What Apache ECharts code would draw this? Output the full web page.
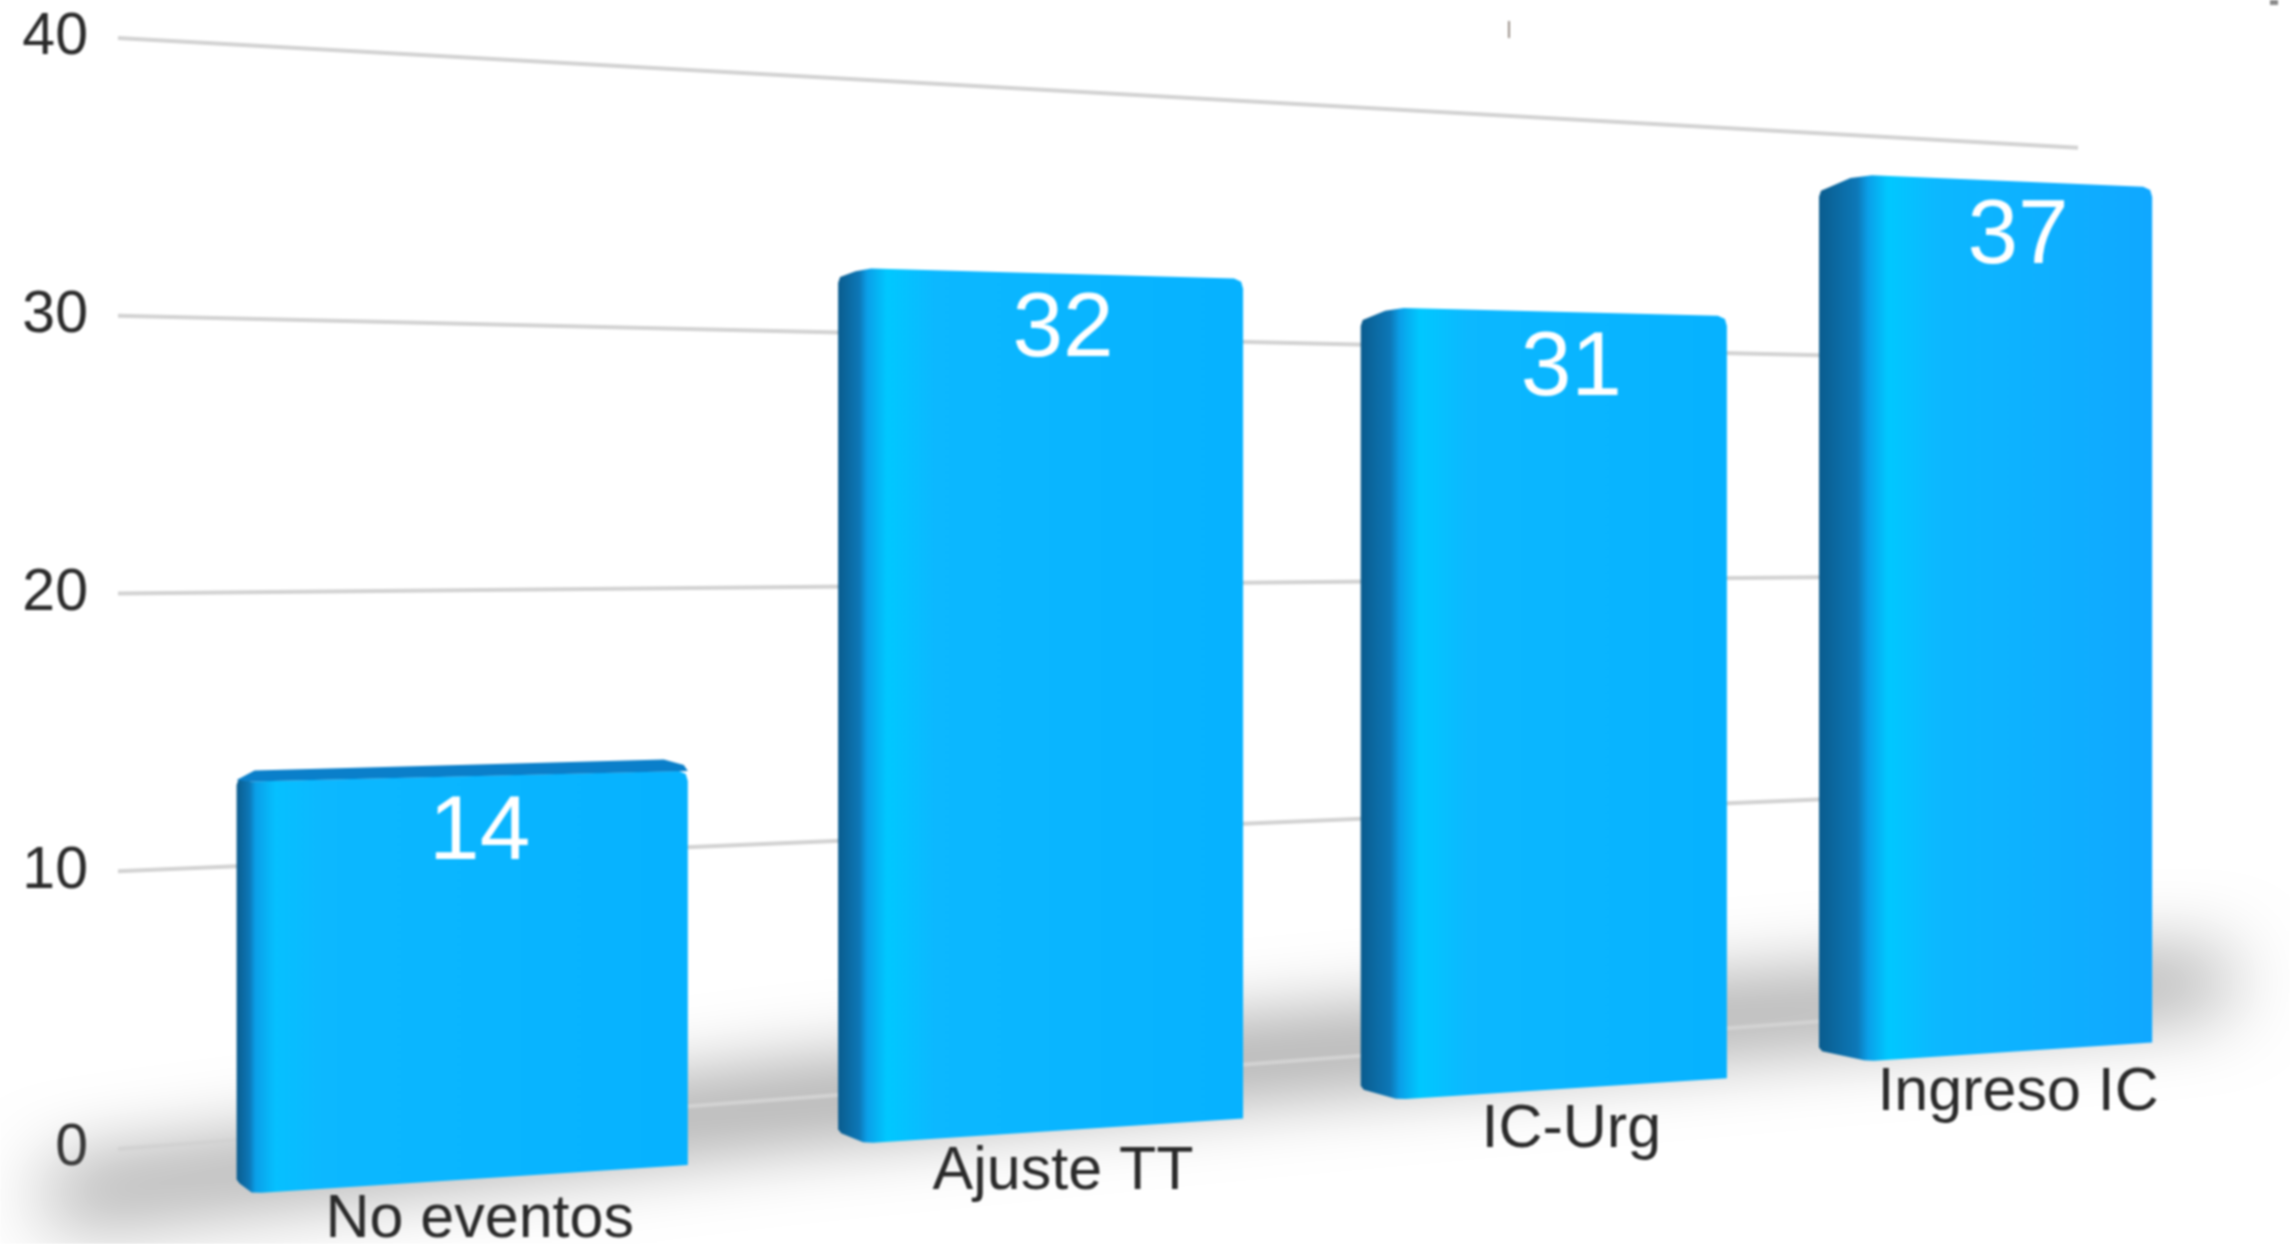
<!DOCTYPE html>
<html>
<head>
<meta charset="utf-8">
<style>
html,body{margin:0;padding:0;background:#fff;overflow:hidden}
#c{width:2290px;height:1244px;filter:blur(1.2px)}
</style>
<script src="https://cdn.jsdelivr.net/npm/echarts@6/dist/echarts.min.js"></script>
</head>
<body>
<div id="c"></div>
<script>
const categories = ['No eventos', 'Ajuste TT', 'IC-Urg', 'Ingreso IC'];
const values = [14, 32, 31, 37];
const yTicks = [0, 10, 20, 30, 40];

const FONT = '"Liberation Sans", Arial, sans-serif';
const chart = echarts.init(document.getElementById('c'), null, {renderer: 'canvas'});

// Perspective applied to the flat cartesian grid
const GRID = {left: 118, right: 212, top: 38, bottom: 95};
const depth = 0.0747;
const shrink = i => 1 / (1 + depth * i);
const centreX = i => 462.2 + 621.6 * i * shrink(i);
const halfWidth = i => 225.6 * Math.pow(shrink(i), 1.5);
const baseY = c => 1179.7 - 0.0829 * (c - 462.2);
const heightRatio = c => 1.008 * (19.57 - 0.00232 * (c - 462.2)) / 19.02;
const edgeSlope = v => -0.065 + 0.0029 * v;
const wallRightRatio = 0.769;
const wallRightZero = 1002;

function renderShadow(params, api) {
  const lift = 3000;
  const pts = [[50, 1176], [780, 1080], [1290, 1030], [1790, 988], [2225, 960],
               [2225, 1000], [1790, 1035], [1290, 1080], [780, 1130], [50, 1218]]
    .map(p => [p[0], p[1] - lift]);
  return {
    type: 'polygon',
    shape: {points: pts},
    style: {fill: '#777777', shadowColor: '#7a7a7a', shadowBlur: 80, shadowOffsetY: lift},
    silent: true
  };
}

function renderWall(params, api) {
  const zero = api.coord([0, 0]);
  const p = api.coord([0, api.value(1)]);
  const x0 = GRID.left, x1 = 2290 - GRID.right;
  const y1 = wallRightZero - (zero[1] - p[1]) * wallRightRatio;
  return {
    type: 'line',
    shape: {x1: x0, y1: p[1], x2: x1, y2: y1},
    style: {stroke: '#d2d2d2', lineWidth: 4},
    silent: true
  };
}

function renderBar(params, api) {
  const idx = params.dataIndex;
  const v = api.value(1);
  const zeroPt = api.coord([api.value(0), 0]);
  const topPt = api.coord([api.value(0), v]);
  const bandW = api.size([1, 0])[0];
  const i = (zeroPt[0] - GRID.left) / bandW - 0.5;
  const c = centreX(i), hw = halfWidth(i), h = (zeroPt[1] - topPt[1]) * heightRatio(c);
  const xl = c - hw, xr = c + hw;
  const side = 15 + 10 * i, xs = xl + side;
  const topY = x => baseY(c) - h + (x - c) * edgeSlope(v);
  const botY = x => baseY(c) + (x - c) * edgeSlope(0);
  const W = xr - xl;
  const low = v < 20;
  const f = x => Math.min(1, x / W);
  const grad = new echarts.graphic.LinearGradient(0, 0, 1, 0, [
    {offset: 0, color: '#0a5c8e'},
    {offset: f(side * 0.85), color: '#0d78b8'},
    {offset: f(side + 4), color: '#0a9fe8'},
    {offset: f(side + 24), color: low ? '#06c0ff' : '#00c8ff'},
    {offset: f(side + 72), color: '#0cb8ff'},
    {offset: 1, color: i > 2 ? '#10a8ff' : '#06b2ff'}
  ]);
  const leftTopY = low ? topY(xl) - 3 : topY(xs) + 0.35 * side;
  const body = [
    [xl, leftTopY + 6], [xl + 2, leftTopY],
    [low ? xs : xs - side * 0.3, low ? topY(xs) : topY(xs) + 3], [xs + 8, topY(xs + 8)],
    [xr - 9, topY(xr - 9)], [xr - 2, topY(xr - 2) + 3], [xr, topY(xr) + 10],
    [xr, botY(xr)], [xs + 10, botY(xs + 10)], [xs, botY(xs) - 1],
    [xl + 3, botY(xs) - 10], [xl, botY(xs) - 14]
  ];
  const children = [{
    type: 'polygon', shape: {points: body}, style: {fill: grad}
  }];
  if (low) {
    children.push({
      type: 'polygon',
      shape: {points: [
        [xl, topY(xl) - 2], [xl + 18, topY(xl + 18) - 11], [xr - 24, topY(xr - 24) - 12],
        [xr - 4, topY(xr - 4) - 6], [xr, topY(xr)], [xs, topY(xs)]
      ]},
      style: {fill: '#0a7fca'}
    });
  }
  const textX = c + side / 2 + 10;
  children.push({
    type: 'text',
    style: {
      text: String(v), x: textX, y: topY(c) + 58,
      fill: '#ffffff', font: '91px ' + FONT, textAlign: 'center', textVerticalAlign: 'middle'
    }
  });
  children.push({
    type: 'text',
    style: {
      text: categories[idx], x: textX, y: baseY(c) + 40,
      fill: '#2a2a2a', font: '61px ' + FONT, textAlign: 'center', textVerticalAlign: 'middle'
    }
  });
  return {type: 'group', children};
}

chart.setOption({
  animation: false,
  backgroundColor: '#ffffff',
  grid: {left: GRID.left, right: GRID.right, top: GRID.top, bottom: GRID.bottom},
  xAxis: {
    type: 'category', data: categories,
    axisLine: {show: false}, axisTick: {show: false}, axisLabel: {show: false}, splitLine: {show: false}
  },
  yAxis: {
    type: 'value', min: 0, max: 40, interval: 10,
    axisLine: {show: false}, axisTick: {show: false}, splitLine: {show: false},
    axisLabel: {color: '#2a2a2a', fontFamily: FONT, fontSize: 59, margin: 30, padding: [14, 0, 0, 0]}
  },
  graphic: [
    {type: 'line', silent: true, shape: {x1: 1509, y1: 21, x2: 1509, y2: 38}, style: {stroke: '#9a8f88', lineWidth: 2}},
    {type: 'rect', silent: true, shape: {x: 2270, y: 0, width: 8, height: 5}, style: {fill: '#8a8a8a'}}
  ],
  series: [
    {type: 'custom', clip: false, silent: true, z: 1, renderItem: renderShadow, data: [[0, 0]], encode: {x: 0, y: 1}},
    {type: 'custom', clip: false, silent: true, z: 2, renderItem: renderWall,
     data: yTicks.map(t => [0, t]), encode: {x: 0, y: 1}},
    {type: 'custom', clip: false, silent: true, z: 3, renderItem: renderBar,
     data: values.map((v, i) => [i, v]), encode: {x: 0, y: 1}}
  ]
});
</script>
</body>
</html>
